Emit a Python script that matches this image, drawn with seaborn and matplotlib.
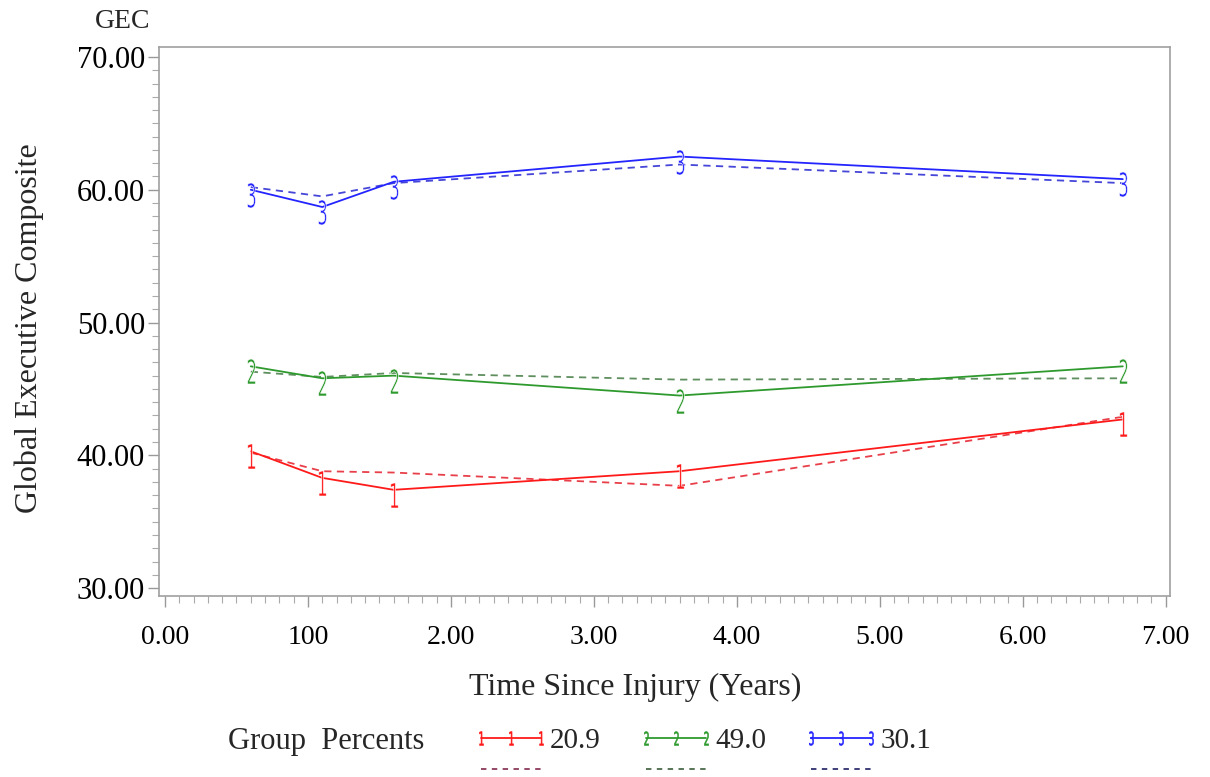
import numpy as np
import pandas as pd
import seaborn as sns
import matplotlib.pyplot as plt
from matplotlib.lines import Line2D
from matplotlib.markers import MarkerStyle
from matplotlib.transforms import Affine2D
from matplotlib.ticker import MultipleLocator, FixedLocator

# Data
years = [0.6, 1.1, 1.6, 3.6, 6.7]
g1_obs = [40.3, 38.3, 37.4, 38.8, 42.7]
g1_pred = [40.2, 38.8, 38.7, 37.7, 42.9]
g2_obs = [46.7, 45.8, 46.0, 44.5, 46.7]
g2_pred = [46.3, 45.9, 46.2, 45.7, 45.8]
g3_obs = [60.0, 58.7, 60.6, 62.5, 60.8]
g3_pred = [60.2, 59.5, 60.5, 61.9, 60.5]

group_ids = ["1", "2", "3"]
group_pcts = ["20.9", "49.0", "30.1"]
xtick_vals = [0, 1, 2, 3, 4, 5, 6, 7]
xtick_labels = ["0.00", "100", "2.00", "3.00", "4.00", "5.00", "6.00", "7.00"]
ytick_vals = [30, 40, 50, 60, 70]

solid_colors = ["#ff1a1a", "#2e9a2e", "#2424ff"]
dash_colors = ["#e8404a", "#5f8f5f", "#4646d8"]
legend_dash = ["#8a3a5a", "#4a6a4a", "#303070"]

sns.set_style("ticks")
plt.rcParams['font.family'] = ['Liberation Serif', 'DejaVu Serif']

fig = plt.figure(figsize=(12.1, 7.77), dpi=100)
ax = fig.add_axes([0.1314, 0.2329, 0.8355, 0.7066])


def digit_marker(d, shift=-0.2):
    return MarkerStyle("$" + d + "$", transform=Affine2D().scale(0.5, 1.0).translate(0, shift))


obs_all = [g1_obs, g2_obs, g3_obs]
pred_all = [g1_pred, g2_pred, g3_pred]

for i in range(3):
    sns.lineplot(x=years, y=pred_all[i], ax=ax, color=dash_colors[i],
                 linestyle=(0, (4, 3)), linewidth=1.3)
    sns.lineplot(x=years, y=obs_all[i], ax=ax, color=solid_colors[i],
                 linewidth=1.3, marker=digit_marker(group_ids[i]),
                 markersize=18, markeredgewidth=0.4)

ax.set_xlim(-0.042, 7.03)
ax.set_ylim(29.4, 70.75)
ax.xaxis.set_major_locator(FixedLocator(xtick_vals))
ax.set_xticklabels(xtick_labels)
ax.xaxis.set_minor_locator(MultipleLocator(0.1))
ax.yaxis.set_major_locator(FixedLocator(ytick_vals))
ax.set_yticklabels(["%.2f" % v for v in ytick_vals])
ax.yaxis.set_minor_locator(MultipleLocator(1))

ax.tick_params(axis='both', which='major', direction='out', length=8, width=1,
               color='#999999', labelcolor='black', pad=6)
ax.tick_params(axis='both', which='minor', direction='out', length=5, width=0.8,
               color='#aaaaaa')
ax.tick_params(axis='y', labelsize=22, pad=2)
ax.tick_params(axis='x', labelsize=20, pad=13)

for sp in ax.spines.values():
    sp.set_color('#a0a0a0')
    sp.set_linewidth(1.2)

ax.set_xlabel("Time Since Injury (Years)", fontsize=23)
ax.xaxis.set_label_coords((635 - 159) / 1011, -(673 - 596) / 549)
ax.set_ylabel("Global Executive Composite", fontsize=23)
ax.yaxis.set_label_coords(-(159 - 44) / 1011, (596 - 328) / 549)
fig.text(150 / 1210, 1 - 21 / 777, "GEC", fontsize=20, ha='right', va='center')

# legend: solid with group digit markers, dashed below
handles = []
labels = []
for i in range(3):
    handles.append(Line2D([], [], color=solid_colors[i], linewidth=1.3,
                          marker=digit_marker(group_ids[i], 0.0), markersize=10,
                          markeredgewidth=0.4))
    labels.append(group_pcts[i])
    handles.append(Line2D([], [], color=legend_dash[i], linewidth=1.3,
                          linestyle=(0, (3, 3))))
    labels.append("")

fig.legend(handles=handles, labels=labels, ncol=3, loc='upper left',
           bbox_to_anchor=(472 / 1210, 1 - 728 / 777), frameon=False,
           fontsize=21, handlelength=2.65, handletextpad=0.02,
           columnspacing=1.25, labelspacing=0.15, numpoints=3,
           borderpad=0, borderaxespad=0)
fig.text(228 / 1210, 1 - 741 / 777, "Group  Percents", fontsize=22,
         ha='left', va='center')

fig.savefig("out.png", dpi=100)
